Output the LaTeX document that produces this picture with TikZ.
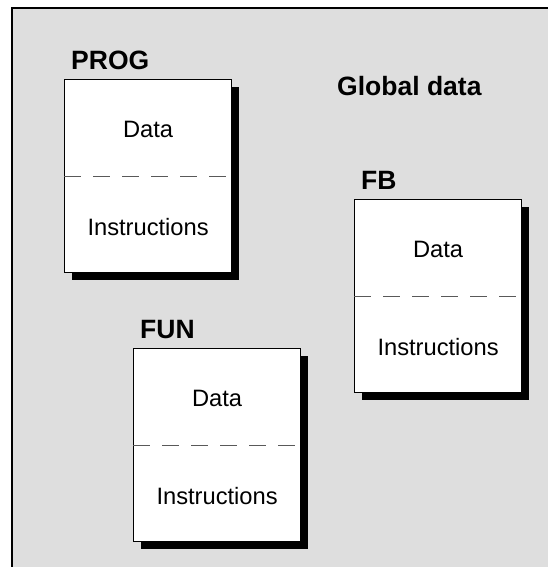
\documentclass[tikz,border=0pt]{standalone}
\usepackage{fontspec}
\setmainfont{Liberation Sans}
\usetikzlibrary{shadows,calc}
\definecolor{panel}{RGB}{222,222,222}
\begin{document}
\begin{tikzpicture}[x=1pt,y=-1pt,
  block/.style={draw=black, line width=1.2pt, fill=white,
    minimum width=167pt, minimum height=193pt, inner sep=0pt, anchor=north west,
    drop shadow={shadow xshift=7.5pt, shadow yshift=-7.5pt, fill=black, opacity=1}},
  title/.style={font=\fontsize{26.5}{31}\selectfont\bfseries, anchor=base west, inner sep=0pt},
  body/.style={font=\fontsize{23.7}{28}\selectfont, anchor=base, inner sep=0pt},
  divider/.style={draw=black!65, line width=1pt, dash pattern=on 17pt off 12pt}]
\useasboundingbox (0,0) rectangle (548,567);
\clip (0,0) rectangle (548,567);

% background panel with its top and left border
\fill[panel] (11.7,8.3) rectangle (560,580);
\draw[line width=2pt] (11.7,580) -- (11.7,8.3) -- (560,8.3);

\node[title] (global) at (337,96) {Global data};

% program block
\node[block] (prog) at (64,79) {};
\draw[divider] (prog.west) -- (prog.east);
\node[title] (proglabel) at ($(prog.north west)+(7,-9.5)$) {PROG};
\node[body] (progdata) at ($(prog.north)+(0,58.7)$) {Data};
\node[body] (progins) at ($(prog.north)+(0,156.7)$) {Instructions};

% function block block
\node[block] (fb) at (354,199) {};
\draw[divider] (fb.west) -- (fb.east);
\node[title] (fblabel) at ($(fb.north west)+(7,-9.5)$) {FB};
\node[body] (fbdata) at ($(fb.north)+(0,58.7)$) {Data};
\node[body] (fbins) at ($(fb.north)+(0,156.7)$) {Instructions};

% function block
\node[block] (fun) at (133,348) {};
\draw[divider] (fun.west) -- (fun.east);
\node[title] (funlabel) at ($(fun.north west)+(7,-9.5)$) {FUN};
\node[body] (fundata) at ($(fun.north)+(0,58.7)$) {Data};
\node[body] (funins) at ($(fun.north)+(0,156.7)$) {Instructions};
\end{tikzpicture}
\end{document}
